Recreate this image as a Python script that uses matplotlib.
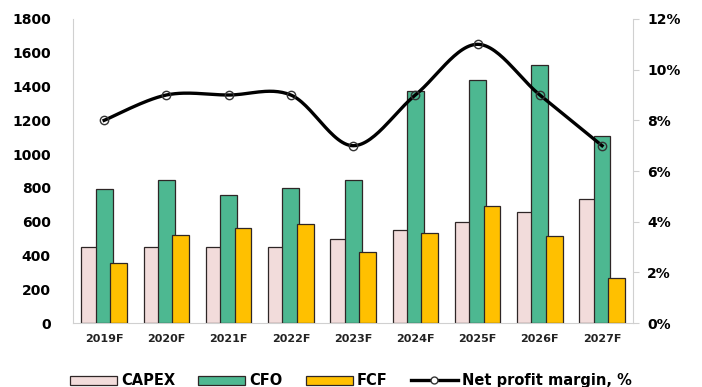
import numpy as np
import matplotlib.pyplot as plt
from matplotlib.ticker import FuncFormatter

years = ["2019F", "2020F", "2021F", "2022F", "2023F", "2024F", "2025F", "2026F", "2027F"]
capex = [450, 450, 450, 450, 500, 550, 600, 660, 735]
cfo = [795, 850, 760, 800, 845, 1375, 1440, 1525, 1105]
fcf = [355, 520, 565, 585, 420, 535, 695, 515, 270]
margin = [8, 9, 9, 9, 7, 9, 11, 9, 7]


def smooth(xs, ys, n=30):
    # catmull-rom style curve through the points (like excel "smoothed line")
    xs = np.asarray(xs, float)
    ys = np.asarray(ys, float)
    px = np.concatenate([[xs[0]], xs, [xs[-1]]])
    py = np.concatenate([[ys[0]], ys, [ys[-1]]])
    outx, outy = [], []
    t = np.linspace(0, 1, n)
    for i in range(1, len(px) - 2):
        p0, p1, p2, p3 = (np.array([px[j], py[j]]) for j in range(i - 1, i + 3))
        c1 = p1 + (p2 - p0) / 6
        c2 = p2 - (p3 - p1) / 6
        b = ((1 - t) ** 3)[:, None] * p1 + (3 * (1 - t) ** 2 * t)[:, None] * c1 \
            + (3 * (1 - t) * t ** 2)[:, None] * c2 + (t ** 3)[:, None] * p2
        outx.extend(b[:, 0])
        outy.extend(b[:, 1])
    return outx, outy


fig = plt.figure(figsize=(7.02, 3.87), dpi=100)
ax = fig.add_axes([0.104, 0.165, 0.798, 0.786])
x = np.arange(len(years))
w = 0.27
edge = "#2e2626"

b1 = ax.bar(x - 0.23, capex, w, color="#F2DCDB", edgecolor=edge, linewidth=0.9, label="CAPEX", zorder=2)
b2 = ax.bar(x, cfo, w, color="#4DB891", edgecolor=edge, linewidth=0.9, label="CFO", zorder=3)
b3 = ax.bar(x + 0.23, fcf, w, color="#FFC000", edgecolor=edge, linewidth=0.9, label="FCF", zorder=4)

ax.set_xlim(-0.5, len(years) - 0.5)
ax.set_ylim(0, 1800)
ax.set_yticks(range(0, 1801, 200))
ax.set_xticks(x)
ax.set_xticklabels(years, fontsize=8, fontweight="bold", color="#222222")
ax.tick_params(axis="x", length=0, pad=8)
ax.tick_params(axis="y", length=0, pad=16, labelsize=10)
for lbl in ax.get_yticklabels():
    lbl.set_fontweight("bold")
for s in ["top", "right"]:
    ax.spines[s].set_visible(False)
ax.spines["left"].set_color("#d0d0d0")
ax.spines["bottom"].set_color("#d0d0d0")

ax2 = ax.twinx()
ax2.set_ylim(0, 12)
ax2.set_yticks(range(0, 13, 2))
ax2.yaxis.set_major_formatter(FuncFormatter(lambda v, p: f"{int(v)}%"))
ax2.tick_params(axis="y", length=4, color="#d0d0d0", labelsize=10, pad=6)
for lbl in ax2.get_yticklabels():
    lbl.set_fontweight("bold")
for s in ["top", "left", "bottom"]:
    ax2.spines[s].set_visible(False)
ax2.spines["right"].set_color("#d0d0d0")

sx, sy = smooth(x, margin)
ax2.plot(sx, sy, color="black", linewidth=2.4, zorder=5)
ax2.plot(x, margin, linestyle="none", marker="o", markersize=6, markerfacecolor="none",
         markeredgecolor="#333333", markeredgewidth=1, zorder=6)
line_handle, = ax2.plot([], [], color="black", linewidth=2.4, marker="o", markersize=5,
                        markerfacecolor="white", markeredgecolor="#333333")

fig.legend([b1, b2, b3, line_handle], ["CAPEX", "CFO", "FCF", "Net profit margin, %"],
           loc="center", bbox_to_anchor=(0.5, 0.016), ncol=4, frameon=False,
           handlelength=3.2, handleheight=0.6, columnspacing=1.6, handletextpad=0.3,
           numpoints=1, prop={"weight": "bold", "size": 10.5})

fig.savefig("out.png", dpi=100)
